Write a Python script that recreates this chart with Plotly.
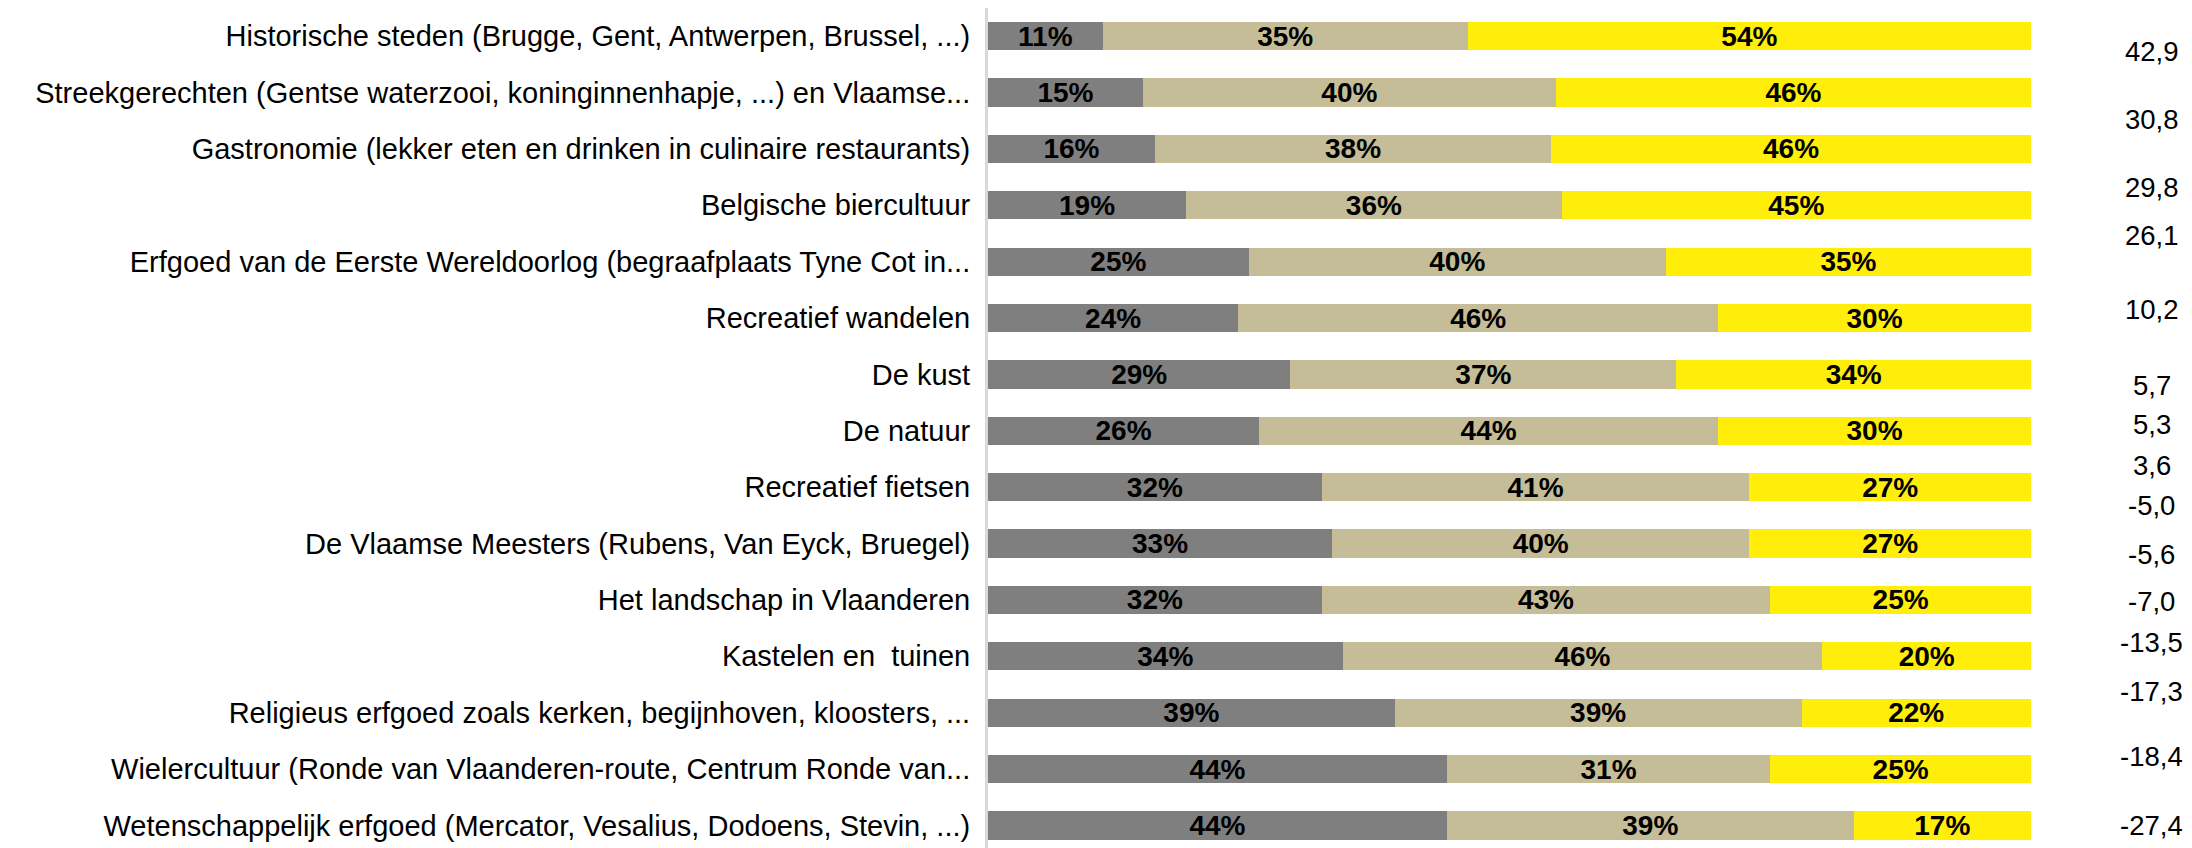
import plotly.graph_objects as go

categories = [
    "Historische steden (Brugge, Gent, Antwerpen, Brussel, ...)",
    "Streekgerechten (Gentse waterzooi, koninginnenhapje, ...) en Vlaamse...",
    "Gastronomie (lekker eten en drinken in culinaire restaurants)",
    "Belgische biercultuur",
    "Erfgoed van de Eerste Wereldoorlog (begraafplaats Tyne Cot in...",
    "Recreatief wandelen",
    "De kust",
    "De natuur",
    "Recreatief fietsen",
    "De Vlaamse Meesters (Rubens, Van Eyck, Bruegel)",
    "Het landschap in Vlaanderen",
    "Kastelen en  tuinen",
    "Religieus erfgoed zoals kerken, begijnhoven, kloosters, ...",
    "Wielercultuur (Ronde van Vlaanderen-route, Centrum Ronde van...",
    "Wetenschappelijk erfgoed (Mercator, Vesalius, Dodoens, Stevin, ...)",
]
low = [11, 15, 16, 19, 25, 24, 29, 26, 32, 33, 32, 34, 39, 44, 44]
mid = [35, 40, 38, 36, 40, 46, 37, 44, 41, 40, 43, 46, 39, 31, 39]
high = [54, 46, 46, 45, 35, 30, 34, 30, 27, 27, 25, 20, 22, 25, 17]
net_scores = ["42,9", "30,8", "29,8", "26,1", "10,2", "5,7", "5,3", "3,6",
              "-5,0", "-5,6", "-7,0", "-13,5", "-17,3", "-18,4", "-27,4"]
# vertical offset of each net-score label from its row (in row units)
net_label_offset = [0.28, 0.47, 0.68, 0.54, 0.85, 1.2, 0.89, 0.62,
                    0.33, 0.2, 0.02, -0.25, -0.38, -0.23, 0.0]

rows = list(range(len(categories)))
FONT = "Liberation Sans"

fig = go.Figure()
for vals, col in [(low, "#7F7F7F"), (mid, "#C4BD97"), (high, "#FFED0A")]:
    fig.add_trace(go.Bar(
        y=rows, x=vals, orientation="h",
        marker=dict(color=col, line=dict(width=0)),
        text=[f"{v}%" for v in vals], textposition="inside",
        insidetextanchor="middle", constraintext="none", textangle=0,
        textfont=dict(family=FONT, size=28, color="black", weight="bold"),
        hoverinfo="skip", showlegend=False,
    ))

for i, (s, off) in enumerate(zip(net_scores, net_label_offset)):
    fig.add_annotation(
        x=1.116, xref="paper", y=i + off, yref="y", text=s,
        showarrow=False, xanchor="center", yanchor="middle",
        font=dict(family=FONT, size=27.5, color="black"),
    )

fig.update_layout(
    width=2176, height=840,
    barmode="stack", barnorm="percent", bargap=0.5,
    plot_bgcolor="white", paper_bgcolor="white",
    margin=dict(l=980, r=153, t=0, b=0, autoexpand=False),
    xaxis=dict(range=[0, 100], visible=False, fixedrange=True),
    yaxis=dict(
        range=[14.4, -0.5], tickmode="array", tickvals=rows,
        ticktext=categories, showgrid=False, zeroline=False,
        showline=True, linecolor="#D9D9D9", linewidth=3,
        ticks="", ticklabelstandoff=9, automargin=False,
        ticklabeloverflow="allow",
        tickfont=dict(family=FONT, size=29, color="black"),
    ),
)

fig.write_html("out.html")
